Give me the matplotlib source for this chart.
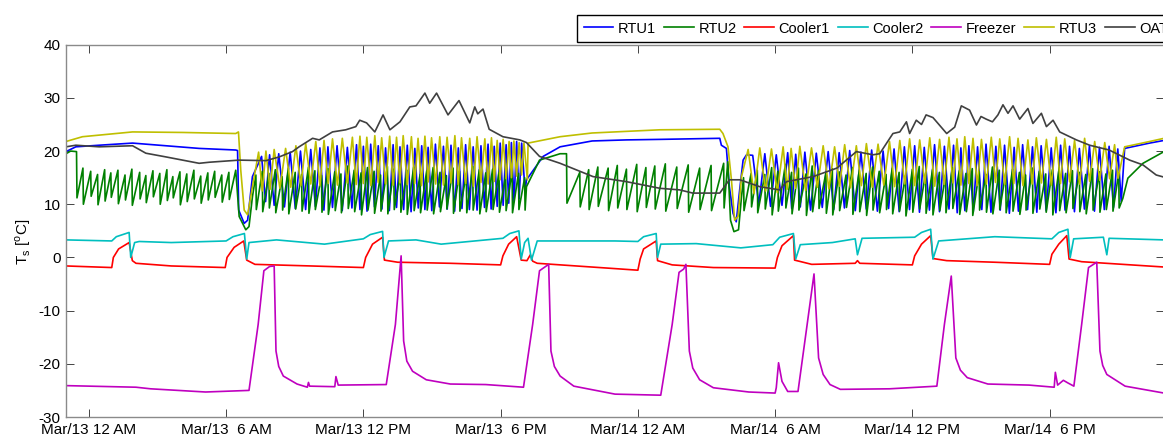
import numpy as np
import matplotlib
matplotlib.use("Agg")
import matplotlib.pyplot as plt

# time axis: hours after Mar/13 12 AM
tick_hours = [0, 6, 12, 18, 24, 30, 36, 42]
tick_labels = ["Mar/13 12 AM", "Mar/13  6 AM", "Mar/13 12 PM", "Mar/13  6 PM",
               "Mar/14 12 AM", "Mar/14  6 AM", "Mar/14 12 PM", "Mar/14  6 PM"]
names = ["RTU1", "RTU2", "Cooler1", "Cooler2", "Freezer", "RTU3", "OAT"]
colors = ["#0000ff", "#008000", "#ff0000", "#00bfbf", "#bf00bf", "#bfbf00", "#404040"]

# ---- RTU1 (blue): smooth parts + cycling periods (peak times, peaks, lows)
rtu1_night1_h = [-1.0, -0.57, 0.45, 1.91, 3.37, 4.82, 6.42, 6.5, 6.55, 6.79, 6.94, 7.15]
rtu1_night1_t = [19.9, 20.8, 21.1, 21.5, 21.0, 20.5, 20.2, 20.1, 8.9, 6.4, 7.0, 15.2]
rtu1_day1_h = [7.55, 7.90, 8.30, 8.80, 9.25, 9.70, 10.10, 10.45, 10.85, 11.30,
               11.70, 12.00, 12.32, 12.65, 12.97, 13.30, 13.60, 13.92, 14.25, 14.55,
               14.83, 15.15, 15.50, 15.83, 16.15, 16.47, 16.80, 17.14, 17.45, 17.72,
               17.98, 18.24, 18.47, 18.70, 18.92]
rtu1_day1_hi = [19.0, 19.3, 19.5, 19.8, 20.0, 20.3, 20.6, 20.8, 21.0, 20.7,
                21.2, 20.9, 21.3, 21.0, 20.6, 21.2, 20.8, 21.1, 20.5, 21.0,
                20.7, 21.3, 20.9, 21.1, 20.6, 21.2, 20.8, 21.0, 21.3, 20.9,
                21.5, 21.2, 21.6, 21.8, 21.5]
rtu1_day1_lo = [10.5, 9.8, 9.5, 9.2, 9.0, 9.6, 8.9, 9.4, 8.8, 9.3,
                9.0, 8.7, 9.5, 9.1, 8.8, 9.4, 9.0, 8.6, 9.3, 9.0,
                8.8, 9.5, 9.1, 8.7, 9.2, 9.0, 8.9, 9.4, 9.1, 9.6,
                9.8, 10.2, 10.5, 11.0, 12.5]
rtu1_night2_h = [19.13, 19.86, 20.6, 22.0, 23.5, 25.0, 27.58, 27.65, 27.87,
                 28.0, 28.16, 28.3, 28.45, 28.6, 28.75]
rtu1_night2_t = [14.6, 19.0, 20.8, 21.9, 22.1, 22.2, 22.4, 21.1, 20.5,
                 13.3, 8.3, 6.7, 12.7, 18.3, 19.3]
rtu1_day2_h = [29.02, 29.55, 30.05, 30.55, 30.90, 31.30, 31.80, 32.32, 32.80, 33.26,
               33.75, 34.22, 34.72, 35.20, 35.65, 36.10, 36.52, 36.97, 37.40, 37.80,
               38.12, 38.47, 38.85, 39.22, 39.65, 40.03, 40.45, 40.82, 41.25, 41.63,
               42.07, 42.48, 42.87, 43.30, 43.74, 44.18, 44.60, 44.98]
rtu1_day2_hi = [19.2, 19.5, 19.3, 19.7, 19.4, 19.8, 19.6, 19.9, 19.7, 20.1,
                19.8, 20.2, 20.0, 20.4, 20.8, 21.0, 20.7, 21.2, 20.9, 21.1,
                20.6, 21.0, 20.8, 21.3, 20.9, 21.1, 20.7, 21.2, 20.8, 21.0,
                20.6, 21.1, 20.9, 20.5, 21.0, 20.7, 20.9, 20.4]
rtu1_day2_lo = [10.0, 9.6, 9.8, 9.2, 9.5, 8.9, 9.4, 9.0, 9.3, 8.8,
                9.1, 8.7, 9.2, 8.6, 9.0, 8.5, 8.9, 8.6, 9.1, 8.4,
                8.8, 8.6, 9.0, 8.5, 8.9, 8.3, 8.7, 9.0, 8.5, 8.8,
                8.4, 8.9, 8.6, 9.1, 8.7, 9.0, 9.4, 10.5]
rtu1_end_h = [45.28, 46.37, 47.0]
rtu1_end_t = [20.5, 21.5, 22.0]

# ---- RTU2 (green): sawtooth, drop times with value before and after drop
rtu2_start_h = [-1.0, -0.8]
rtu2_start_t = [19.5, 20.0]
rtu2_night1_h = [-0.54, -0.26, 0.08, 0.38, 0.69, 0.96, 1.27, 1.58, 1.88, 2.22,
                 2.49, 2.80, 3.10, 3.41, 3.67, 3.98, 4.28, 4.59, 4.89, 5.20,
                 5.50, 5.81, 6.12]
rtu2_night1_hi = [19.9, 16.8, 16.2, 15.6, 16.5, 15.9, 16.4, 15.5, 16.6, 16.0,
                  15.4, 16.3, 15.8, 16.5, 15.2, 16.1, 15.7, 16.4, 15.3, 15.9,
                  16.2, 15.5, 16.0]
rtu2_night1_lo = [11.2, 10.0, 11.5, 9.9, 10.6, 11.3, 10.1, 10.8, 9.8, 11.0,
                  10.3, 11.4, 10.0, 10.7, 11.2, 9.9, 10.5, 11.0, 10.2, 10.8,
                  11.3, 10.4, 10.9]
rtu2_dip1_h = [6.42, 6.57, 6.86, 7.0, 7.15]
rtu2_dip1_t = [16.4, 7.7, 5.2, 5.8, 11.4]
rtu2_day1_h = [7.30, 7.58, 7.87, 8.15, 8.45, 8.72, 9.02, 9.30, 9.60, 9.88,
               10.17, 10.45, 10.75, 11.02, 11.32, 11.60, 11.90, 12.18, 12.47, 12.75,
               13.05, 13.33, 13.62, 13.90, 14.20, 14.48, 14.77, 15.05, 15.35, 15.63,
               15.92, 16.20, 16.50, 16.78, 17.07, 17.35, 17.65, 17.93, 18.22, 18.50,
               18.78, 19.05]
rtu2_day1_hi = [15.5, 16.2, 15.8, 16.5, 15.2, 16.8, 16.0, 15.6, 17.0, 16.3,
                15.4, 16.7, 16.1, 15.7, 17.2, 16.4, 15.9, 16.9, 16.2, 15.5,
                17.1, 16.6, 15.8, 16.4, 17.0, 15.6, 16.3, 16.9, 16.0, 15.4,
                16.8, 16.2, 15.7, 17.1, 16.5, 15.9, 16.6, 16.0, 15.5, 16.3,
                15.8, 15.0]
rtu2_day1_lo = [9.0, 8.6, 9.3, 8.4, 8.9, 8.2, 9.1, 8.7, 8.3, 9.0,
                8.5, 8.1, 8.8, 8.4, 9.2, 8.6, 8.0, 8.9, 8.3, 8.7,
                8.2, 9.0, 8.5, 8.1, 8.8, 8.4, 8.9, 8.2, 8.6, 9.1,
                8.3, 8.7, 8.4, 8.9, 8.2, 8.6, 9.0, 8.5, 8.8, 8.4,
                9.0, 8.9]
rtu2_eve1_h = [19.13, 19.7, 20.6]
rtu2_eve1_t = [13.3, 18.3, 19.5]
rtu2_night2_h = [20.88, 21.46, 21.85, 22.25, 22.70, 23.10, 23.50, 23.95, 24.35, 24.74,
                 25.20, 25.70, 26.20, 26.70, 27.20, 27.75]
rtu2_night2_hi = [19.5, 16.0, 16.5, 17.0, 16.8, 17.3, 16.6, 17.5, 16.9, 17.2,
                  17.6, 17.0, 17.4, 16.8, 17.3, 17.7]
rtu2_night2_lo = [10.2, 9.5, 9.0, 9.6, 8.8, 9.3, 9.0, 8.6, 9.4, 9.1,
                  8.7, 9.2, 8.5, 9.0, 8.8, 9.3]
rtu2_dip2_h = [27.93, 28.05, 28.2, 28.4, 28.53]
rtu2_dip2_t = [18.0, 7.0, 4.85, 5.2, 11.4]
rtu2_day2_h = [28.62, 28.95, 29.22, 29.55, 29.85, 30.12, 30.45, 30.72, 31.02, 31.35,
               31.62, 31.90, 32.22, 32.50, 32.80, 33.10, 33.38, 33.68, 33.98, 34.26,
               34.55, 34.85, 35.12, 35.42, 35.70, 36.00, 36.30, 36.58, 36.88, 37.18,
               37.45, 37.75, 38.05, 38.34, 38.62, 38.92, 39.22, 39.50, 39.80, 40.08,
               40.38, 40.68, 40.95, 41.25, 41.55, 41.83, 42.12, 42.42, 42.70, 43.00,
               43.30, 43.58, 43.88, 44.18, 44.46, 44.75, 45.02]
rtu2_day2_hi = [15.0, 15.8, 16.4, 15.6, 16.9, 16.2, 17.5, 16.0, 16.8, 15.7,
                17.2, 16.3, 15.9, 16.7, 16.1, 15.5, 16.9, 16.4, 15.8, 17.0,
                16.2, 15.6, 16.8, 16.0, 15.4, 16.6, 17.1, 15.9, 16.5, 16.0,
                15.5, 16.9, 16.3, 15.8, 16.7, 16.1, 15.6, 17.0, 16.4, 15.9,
                16.6, 16.0, 15.5, 16.8, 16.2, 15.7, 16.5, 16.9, 15.8, 16.3,
                16.0, 15.6, 16.7, 16.1, 15.7, 16.4, 15.9]
rtu2_day2_lo = [8.8, 9.5, 8.4, 9.1, 8.0, 8.7, 9.3, 8.2, 8.9, 7.9,
                8.6, 9.2, 8.3, 8.0, 8.8, 9.4, 8.1, 8.6, 7.9, 8.9,
                8.4, 9.0, 8.2, 8.7, 7.8, 8.5, 9.1, 8.3, 8.0, 8.8,
                8.4, 9.2, 8.1, 8.6, 7.9, 8.9, 8.5, 8.2, 9.0, 8.4,
                8.7, 8.1, 8.9, 8.3, 9.1, 8.5, 8.0, 8.8, 8.4, 9.2,
                8.6, 8.2, 8.9, 8.5, 9.0, 8.7, 9.3]
rtu2_end_h = [45.2, 45.42, 46.08, 47.0]
rtu2_end_t = [11.1, 14.9, 17.7, 19.9]

# ---- RTU3 (olive)
rtu3_night1_h = [-1.0, -0.28, 0.45, 1.91, 4.1, 6.42, 6.54, 6.64, 6.79, 6.94, 7.15]
rtu3_night1_t = [21.8, 22.7, 23.0, 23.6, 23.5, 23.3, 23.6, 16.4, 8.9, 8.0, 13.3]
rtu3_day1_h = [7.42, 7.74, 8.10, 8.60, 9.05, 9.48, 9.92, 10.28, 10.65, 11.08,
               11.52, 11.85, 12.15, 12.50, 12.80, 13.15, 13.45, 13.74, 14.10, 14.39,
               14.69, 14.98, 15.34, 15.66, 16.00, 16.29, 16.65, 16.97, 17.31, 17.60,
               17.85, 18.11, 18.37, 18.58, 18.81, 19.02]
rtu3_day1_hi = [19.8, 20.0, 20.3, 20.5, 21.0, 21.4, 21.8, 22.0, 22.3, 22.4,
                22.6, 22.8, 22.6, 22.9, 22.5, 22.8, 22.6, 22.9, 22.7, 22.4,
                22.8, 22.5, 22.7, 22.6, 22.9, 22.5, 22.4, 22.7, 22.3, 22.5,
                22.0, 22.2, 21.8, 21.9, 21.6, 21.5]
rtu3_day1_lo = [12.5, 12.8, 13.0, 13.2, 13.5, 13.8, 13.5, 13.9, 13.6, 14.0,
                13.7, 13.9, 13.5, 14.1, 13.8, 13.6, 14.0, 13.7, 13.9, 13.5,
                14.2, 13.8, 13.6, 14.0, 13.7, 13.9, 13.4, 14.1, 13.8, 14.3,
                14.6, 14.8, 15.0, 15.3, 15.5, 14.6]
rtu3_night2_h = [19.2, 20.6, 22.0, 24.96, 27.58, 27.72, 27.94, 28.09, 28.23, 28.38, 28.53]
rtu3_night2_t = [21.5, 22.7, 23.4, 24.0, 24.1, 23.3, 20.8, 14.6, 7.0, 7.7, 15.2]
rtu3_day2_h = [28.82, 29.33, 29.84, 30.35, 30.70, 31.08, 31.59, 32.10, 32.60, 33.04,
               33.55, 33.99, 34.50, 35.00, 35.45, 35.88, 36.32, 36.76, 37.19, 37.60,
               37.95, 38.29, 38.65, 39.02, 39.45, 39.82, 40.25, 40.62, 41.05, 41.42,
               41.86, 42.29, 42.66, 43.09, 43.53, 43.97, 44.41, 44.84]
rtu3_day2_hi = [20.3, 20.6, 20.4, 20.8, 20.5, 20.9, 20.6, 21.0, 20.8, 21.2,
                21.0, 21.4, 21.3, 21.8, 22.0, 22.3, 22.1, 22.5, 22.2, 22.6,
                22.3, 22.7, 22.4, 22.2, 22.6, 22.3, 22.7, 22.4, 22.1, 22.5,
                22.2, 22.6, 22.3, 22.0, 22.4, 21.8, 21.6, 21.2]
rtu3_day2_lo = [12.0, 12.5, 12.2, 12.8, 13.0, 12.6, 13.2, 12.9, 13.4, 13.1,
                13.5, 13.2, 13.6, 13.3, 13.8, 13.5, 13.9, 13.4, 13.7, 14.0,
                13.6, 13.9, 13.5, 13.8, 14.1, 13.7, 13.9, 13.5, 13.8, 14.0,
                13.6, 13.9, 14.2, 13.8, 14.3, 14.5, 14.8, 14.9]
rtu3_end_h = [45.28, 46.37, 47.0]
rtu3_end_t = [20.8, 21.8, 22.4]

# ---- Cooler1, Cooler2, Freezer, OAT
cooler1_h = [-1.0, 1.0, 1.07, 1.3, 1.76, 1.9, 2.06, 3.6, 5.96, 6.04, 6.35, 6.77, 6.9, 7.26, 9.7,
             12.0, 12.1, 12.4, 12.84, 12.92, 13.5, 15.8, 18.0, 18.1, 18.35, 18.7, 18.9, 19.15,
             19.3, 19.4, 19.6, 23.0, 24.0, 24.1, 24.25, 24.8, 24.86, 25.5, 27.3, 30.0, 30.1,
             30.3, 30.8, 30.85, 31.6, 33.5, 33.6, 33.7, 36.0, 36.1, 36.4, 36.8, 36.9, 37.5,
             39.6, 42.0, 42.1, 42.4, 42.75, 42.85, 43.4, 47.0]
cooler1_t = [-1.6, -1.9, 0.0, 1.6, 2.8, -0.6, -1.1, -1.6, -1.9, 0.0, 1.9, 3.1, -0.5, -1.3, -1.6,
             -1.9, 0.0, 2.5, 3.8, -0.5, -0.9, -1.1, -1.4, 0.3, 2.5, 3.9, -0.5, -0.6,
             0.5, -0.7, -1.1, -2.1, -2.4, -0.3, 1.6, 3.1, -0.6, -1.4, -1.9, -2.0, 0.0,
             2.2, 4.1, -0.5, -1.3, -1.1, -0.6, -1.1, -1.4, 0.3, 2.5, 4.1, -0.2, -0.6,
             -0.9, -1.3, 0.6, 2.5, 4.1, -0.3, -0.8, -1.8]
cooler2_h = [-1.0, 1.0, 1.2, 1.76, 1.83, 2.0, 2.2, 3.6, 6.0, 6.3, 6.8, 6.9, 7.0, 8.2, 10.3,
             12.0, 12.3, 12.84, 12.9, 13.1, 14.3, 15.4, 18.1, 18.4, 18.8, 18.9, 19.05, 19.2,
             19.35, 19.6, 23.0, 24.0, 24.25, 24.8, 24.86, 25.0, 26.55, 28.5, 29.9, 30.2,
             30.8, 30.9, 31.1, 32.5, 33.5, 33.6, 33.8, 36.1, 36.4, 36.8, 36.9, 37.15, 39.6,
             42.1, 42.4, 42.8, 42.9, 43.05, 44.35, 44.5, 44.6, 47.0]
cooler2_t = [3.3, 3.1, 3.9, 4.7, 0.0, 2.8, 3.0, 2.8, 3.1, 3.9, 4.5, -0.3, 2.8, 3.3, 2.5,
             3.5, 4.3, 4.9, 0.0, 3.1, 3.3, 2.5, 3.6, 4.5, 5.0, -0.3, 2.8, 3.6,
             -0.5, 3.1, 3.1, 3.0, 3.9, 4.5, 0.0, 2.5, 2.6, 1.8, 2.4, 3.8,
             4.5, -0.3, 2.4, 2.8, 3.5, 0.5, 3.6, 3.8, 4.7, 5.3, -0.3, 3.1, 3.9,
             3.5, 4.7, 5.3, 0.0, 3.5, 3.8, 0.5, 3.6, 3.3]
freezer_h = [-1.0, 2.06, 2.7, 5.1, 7.0, 7.4, 7.65, 7.9, 8.1, 8.18, 8.3, 8.5, 9.1, 9.55, 9.6,
             9.65, 10.75, 10.8, 10.9, 13.0, 13.4, 13.65, 13.76, 13.9, 14.15, 14.75, 15.8,
             17.35, 19.0, 19.4, 19.7, 20.1, 20.2, 20.35, 20.6, 21.2, 23.0, 25.0, 25.5, 25.8,
             26.0, 26.1, 26.25, 26.4, 26.7, 27.3, 28.85, 30.0, 30.05, 30.15, 30.3, 30.55,
             31.0, 31.4, 31.7, 31.9, 32.1, 32.4, 32.85, 35.0, 37.07, 37.4, 37.7, 37.9, 38.1,
             38.4, 39.3, 41.1, 42.2, 42.25, 42.35, 42.6, 42.8, 43.06, 43.4, 43.7, 44.06,
             44.2, 44.32, 44.5, 45.3, 47.0]
freezer_t = [-24.1, -24.4, -24.7, -25.3, -25.0, -12.6, -2.5, -1.7, -1.6, -17.6, -20.5, -22.3,
             -23.8, -24.4, -23.5, -24.2, -24.3, -22.4, -24.0, -23.9, -12.6, 0.3, -15.7,
             -19.5, -21.4, -23.0, -23.8, -23.9, -24.4, -12.6, -2.5, -1.3, -17.6, -20.5,
             -22.3, -24.2, -25.7, -25.9, -12.6, -2.8, -2.2, -1.3, -17.6, -20.8, -23.0,
             -24.5, -25.3, -25.5, -24.5, -19.8, -23.3, -25.2, -25.2, -12.6, -3.1, -18.9,
             -22.0, -23.9, -24.8, -24.7, -24.2, -12.6, -3.5, -18.9, -21.2, -22.6, -23.8,
             -24.0, -24.4, -21.6, -24.0, -23.1, -23.6, -24.2, -12.6, -1.9, -0.9, -17.6,
             -20.3, -22.0, -24.2, -25.5]
oat_h = [-1.0, -0.57, 0.45, 1.91, 2.49, 3.37, 4.82, 5.26, 6.57, 7.74, 8.32, 8.9, 9.19, 9.78,
         10.07, 10.65, 11.23, 11.67, 11.84, 12.14, 12.5, 12.86, 13.16, 13.6, 14.03, 14.3,
         14.69, 14.9, 15.2, 15.7, 16.18, 16.65, 16.87, 17.0, 17.23, 17.5, 18.1, 18.84,
         19.13, 19.7, 20.6, 22.04, 23.5, 24.96, 25.83, 26.4, 27.58, 28.0, 28.46, 29.33,
         30.2, 30.5, 31.66, 32.7, 33.55, 34.28, 34.57, 35.15, 35.45, 35.74, 35.88, 36.17,
         36.4, 36.6, 36.9, 37.5, 37.85, 38.14, 38.5, 38.8, 39.0, 39.23, 39.5, 39.74, 39.96,
         40.18, 40.4, 40.69, 41.05, 41.27, 41.64, 41.86, 42.15, 42.44, 43.17, 43.75, 44.6,
         45.5, 46.08, 46.66, 47.0]
oat_t = [20.8, 21.1, 20.8, 21.0, 19.6, 18.9, 17.7, 17.9, 18.3, 18.2, 18.9, 19.9, 20.8, 22.4,
         22.1, 23.6, 24.0, 24.6, 25.8, 25.3, 23.6, 26.8, 24.0, 25.5, 28.3, 28.5,
         30.9, 29.0, 30.9, 26.8, 29.5, 25.3, 28.3, 27.0, 27.9, 24.1, 22.7, 22.1,
         21.6, 19.0, 17.7, 15.2, 14.25, 13.0, 12.7, 12.1, 12.1, 14.6, 14.6, 13.3,
         12.7, 14.25, 15.2, 16.8, 19.9, 19.3, 19.5, 23.3, 23.6, 25.5, 23.3, 25.8,
         25.0, 26.8, 26.3, 23.3, 24.5, 28.5, 27.7, 24.9, 26.5, 26.0, 25.5, 26.8, 28.7,
         27.1, 28.5, 26.0, 28.0, 25.2, 27.1, 24.6, 25.8, 23.6, 22.1, 21.1, 20.2,
         18.3, 17.4, 15.5, 15.1]


def teeth(times, highs, lows):
    # sawtooth: value climbs to the high, then drops straight to the low
    h, v = [], []
    for t, hi, lo in zip(times, highs, lows):
        h += [t, t + 0.02]
        v += [hi, lo]
    return h, v


def cycles(times, highs, lows):
    # up/down cycling, low halfway to the next peak
    h, v = [], []
    for i, (t, hi, lo) in enumerate(zip(times, highs, lows)):
        nxt = times[i + 1] if i + 1 < len(times) else t + 0.3
        h += [t, (t + nxt) / 2]
        v += [hi, lo]
    return h, v


def join(*parts):
    h, v = [], []
    for ph, pv in parts:
        h += list(ph)
        v += list(pv)
    return np.array(h), np.array(v)


rtu1 = join((rtu1_night1_h, rtu1_night1_t),
            cycles(rtu1_day1_h, rtu1_day1_hi, rtu1_day1_lo),
            (rtu1_night2_h, rtu1_night2_t),
            cycles(rtu1_day2_h, rtu1_day2_hi, rtu1_day2_lo),
            (rtu1_end_h, rtu1_end_t))
rtu2 = join((rtu2_start_h, rtu2_start_t),
            teeth(rtu2_night1_h, rtu2_night1_hi, rtu2_night1_lo),
            (rtu2_dip1_h, rtu2_dip1_t),
            teeth(rtu2_day1_h, rtu2_day1_hi, rtu2_day1_lo),
            (rtu2_eve1_h, rtu2_eve1_t),
            teeth(rtu2_night2_h, rtu2_night2_hi, rtu2_night2_lo),
            (rtu2_dip2_h, rtu2_dip2_t),
            teeth(rtu2_day2_h, rtu2_day2_hi, rtu2_day2_lo),
            (rtu2_end_h, rtu2_end_t))
rtu3 = join((rtu3_night1_h, rtu3_night1_t),
            cycles(rtu3_day1_h, rtu3_day1_hi, rtu3_day1_lo),
            (rtu3_night2_h, rtu3_night2_t),
            cycles(rtu3_day2_h, rtu3_day2_hi, rtu3_day2_lo),
            (rtu3_end_h, rtu3_end_t))
series = [rtu1, rtu2, (cooler1_h, cooler1_t), (cooler2_h, cooler2_t),
          (freezer_h, freezer_t), rtu3, (oat_h, oat_t)]

plt.rcParams['font.family'] = ['Liberation Sans', 'DejaVu Sans']
plt.rcParams['font.size'] = 11
plt.rcParams['axes.unicode_minus'] = False
plt.rcParams['mathtext.fontset'] = 'custom'
plt.rcParams['mathtext.rm'] = 'Liberation Sans'

fig = plt.figure(figsize=(11.63, 4.36), dpi=100)
ax = fig.add_axes([66 / 1163, 1 - 417 / 436, 1098 / 1163, 372.3 / 436])

lines = []
for (h, v), name, c in zip(series, names, colors):
    ln, = ax.plot(h, v, color=c, lw=1.2, label=name)
    lines.append(ln)

ax.set_xlim(-1.0, 47.0)
ax.set_ylim(-30, 40)
ax.set_yticks(range(-30, 41, 10))
ax.set_xticks(tick_hours)
ax.set_xticklabels(tick_labels)
ax.tick_params(direction='in', length=6, width=0.6, top=True, right=True,
               colors='#262626', labelcolor='black', pad=4)
for s in ax.spines.values():
    s.set_color('#8a8a8a')
    s.set_linewidth(1.0)
ax.set_ylabel(r'T$_{\rm s}$ [$^{\rm o}$C]')
ax.yaxis.set_label_coords(-0.030, 0.47)

fig.legend(lines, names, loc='upper left', bbox_to_anchor=(577 / 1163, 1 - 15 / 436),
           ncol=7, frameon=True, fancybox=False, edgecolor='black', framealpha=1,
           fontsize=10.5, borderpad=0.45, handlelength=2.05, handletextpad=0.3,
           columnspacing=0.55, borderaxespad=0)

fig.savefig("out.png", dpi=100)
